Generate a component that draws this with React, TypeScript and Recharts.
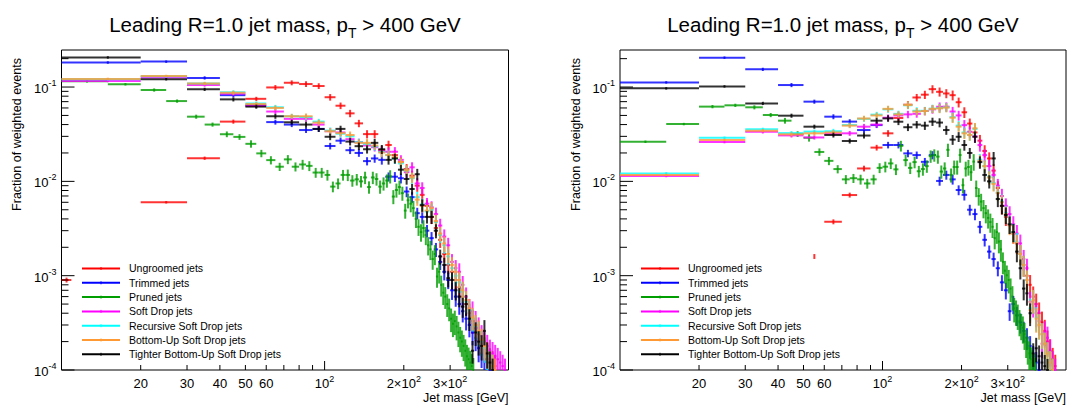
import { ScatterChart, Scatter, XAxis, YAxis, ErrorBar, ReferenceArea, Legend } from 'recharts';

const FONT = '"Liberation Sans", Arial, Helvetica, sans-serif';

// bin centres (GeV): 10 GeV bins for most jets, 5 GeV bins for pruned jets
const massCenters10 = [
  15, 25, 35, 45, 55, 65, 75, 85, 95, 105, 115, 125, 135, 145, 155, 165, 175, 185, 195, 205, 215, 225, 235, 245, 255,
  265, 275, 285, 295, 305, 315, 325, 335, 345, 355, 365, 375, 385, 395, 405, 415, 425, 435, 445, 455, 465, 475, 485, 495,
];
const massCenters5 = [
  12.5, 17.5, 22.5, 27.5, 32.5, 37.5, 42.5, 47.5, 52.5, 57.5, 62.5, 67.5, 72.5, 77.5, 82.5, 87.5, 92.5, 97.5, 102.5,
  107.5, 112.5, 117.5, 122.5, 127.5, 132.5, 137.5, 142.5, 147.5, 152.5, 157.5, 162.5, 167.5, 172.5, 177.5, 182.5, 187.5,
  192.5, 197.5, 202.5, 207.5, 212.5, 217.5, 222.5, 227.5, 232.5, 237.5, 242.5, 247.5, 252.5, 257.5, 262.5, 267.5, 272.5,
  277.5, 282.5, 287.5, 292.5, 297.5, 302.5, 307.5, 312.5, 317.5, 322.5, 327.5, 332.5, 337.5, 342.5, 347.5, 352.5, 357.5,
  362.5, 367.5, 372.5, 377.5, 382.5, 387.5, 392.5, 397.5,
];

// relative stat. errors per 10 GeV bin
const relErr10 = [
  0.03, 0.03, 0.04, 0.05, 0.05, 0.06, 0.06, 0.07, 0.07, 0.08, 0.08, 0.09, 0.09, 0.1, 0.1, 0.11, 0.11, 0.12, 0.12, 0.13,
  0.13, 0.14, 0.15, 0.15, 0.16, 0.17, 0.18, 0.19, 0.2, 0.21, 0.22, 0.23, 0.24, 0.25, 0.26, 0.27, 0.28, 0.29, 0.3, 0.3,
  0.31, 0.31, 0.32, 0.32, 0.32, 0.32, 0.32, 0.32, 0.32,
];
const relErrPruned10 = [
  0.03, 0.04, 0.05, 0.07, 0.09, 0.1, 0.11, 0.12, 0.12, 0.13, 0.13, 0.14, 0.14, 0.15, 0.15, 0.16, 0.16, 0.17, 0.17, 0.18,
  0.19, 0.2, 0.21, 0.22, 0.23, 0.24, 0.25, 0.26, 0.27, 0.28, 0.29, 0.3, 0.31, 0.32, 0.33, 0.34, 0.35, 0.35, 0.35, 0.35,
];

// ---- left pad ----
const ungroomedL = [
  null, 0.006, 0.0176, 0.043, 0.075, 0.099, 0.111, 0.1076, 0.1025, 0.078, 0.0634, 0.0526, 0.0412, 0.0317, 0.0317,
  0.0215, 0.0243, 0.019, 0.016, 0.0135, 0.0115, 0.009, 0.0072, 0.0055, 0.0042, 0.0032, 0.0024, 0.0017, 0.0013, 0.0011,
  0.0009, 0.00075, 0.0006, 0.0005, 0.0004, 0.00033, 0.00028, 0.00024, 0.0002, 0.00017, 0.00015, 0.00013, 0.00012, 0.00011,
];
const trimmedL = [
  0.182, 0.186, 0.125, 0.082, 0.064, 0.0425, 0.04, 0.035, 0.036, 0.0237, 0.027, 0.0214, 0.02, 0.0164, 0.0175, 0.0169,
  0.0112, 0.0112, 0.0108, 0.0078, 0.0068, 0.0046, 0.0042, 0.003, 0.0025, 0.0019, 0.0014, 0.0011, 0.0009, 0.0007, 0.0006,
  0.0005, 0.00042, 0.00035, 0.0003, 0.00025, 0.00022, 0.00017, 0.00015, 0.00013, 0.00012, 0.0001,
];
const prunedL = [
  0.115, 0.107, 0.093, 0.071, 0.0485, 0.04, 0.0316, 0.0296, 0.025, 0.0198, 0.0168, 0.0143, 0.0171, 0.0143, 0.0151,
  0.0146, 0.0124, 0.0124, 0.0117, 0.0088, 0.0095, 0.0117, 0.0117, 0.0102, 0.0105, 0.01, 0.011, 0.0087, 0.011, 0.0106,
  0.0088, 0.0095, 0.0102, 0.0113, 0.0069, 0.0081, 0.0087, 0.0075, 0.0049, 0.0063, 0.0058, 0.0052, 0.004, 0.0033, 0.0029,
  0.0032, 0.0027, 0.0021, 0.0019, 0.0015, 0.0017, 0.00098, 0.0011, 0.0008, 0.00066, 0.0006, 0.0005, 0.00045, 0.00035,
  0.00031, 0.00033, 0.00029, 0.00025, 0.00022, 0.0002, 0.00018, 0.00016, 0.00014, 0.00013, 0.00012, 0.00011, 0.0001,
];
const softDropL = [
  0.116, 0.126, 0.105, 0.085, 0.063, 0.055, 0.046, 0.046, 0.04, 0.034, 0.033, 0.028, 0.026, 0.024, 0.023, 0.021, 0.0206,
  0.0206, 0.0169, 0.0125, 0.0141, 0.0095, 0.0085, 0.0058, 0.0053, 0.0045, 0.0034, 0.0026, 0.0021, 0.0014, 0.0012, 0.0011,
  0.0008, 0.0006, 0.00045, 0.00042, 0.00033, 0.00028, 0.00023, 0.0002, 0.00018, 0.00016, 0.00015, 0.00014, 0.00013,
  0.00012, 0.00011, 0.0001,
];
const recursiveL = [
  0.121, 0.13, 0.109, 0.088, 0.067, 0.061, 0.049, 0.048, 0.043, 0.0345, 0.032, 0.03, 0.026, 0.025, 0.0235, 0.0205, 0.019,
  0.0175, 0.0155, 0.013, 0.0108, 0.0068, 0.0057, 0.0048, 0.005, 0.0037, 0.0027, 0.0021, 0.0016, 0.0012, 0.001, 0.00085,
  0.00068, 0.00053, 0.00043, 0.00035, 0.00029, 0.00025, 0.0002, 0.00017, 0.00014, 0.00012, 0.00011,
];
const bottomUpL = [
  0.122, 0.131, 0.109, 0.087, 0.066, 0.06, 0.049, 0.049, 0.042, 0.034, 0.0325, 0.031, 0.0256, 0.0256, 0.024, 0.0202,
  0.019, 0.018, 0.016, 0.0131, 0.011, 0.0064, 0.0055, 0.0049, 0.0052, 0.0038, 0.0028, 0.0022, 0.0017, 0.0013, 0.0011,
  0.0009, 0.0007, 0.00055, 0.00045, 0.00036, 0.0003, 0.00026, 0.00021, 0.00018, 0.00015, 0.00012, 0.00011, 0.0001,
];
const tighterL = [
  0.206, 0.121, 0.0945, 0.074, 0.062, 0.049, 0.0423, 0.04, 0.0359, 0.0297, 0.036, 0.0264, 0.0236, 0.0219, 0.0256, 0.0219,
  0.0169, 0.0175, 0.0133, 0.0106, 0.0083, 0.0119, 0.0056, 0.0042, 0.0042, 0.003, 0.0016, 0.0013, 0.00094, 0.0009, 0.0007,
  0.0006, 0.00047, 0.0005, 0.00035, 0.00016, 0.00025, 0.0002, 0.00018, 0.00026, 0.00015, 0.00012, 0.0001,
];
const strayUngroomedL = [{ mass: 10.45, half: 0.45, value: 0.0009 }];

// ---- right pad ----
const ungroomedR = [
  null, null, null, null, null, 0.00373, 0.00716, 0.0137, 0.0228, 0.0323, 0.047, 0.065, 0.0775, 0.083, 0.095, 0.089,
  0.0855, 0.082, 0.069, 0.054, 0.041, 0.033, 0.027, 0.021, 0.0175, 0.013, 0.0085, 0.0055, 0.0042, 0.0035, 0.0028, 0.0022,
  0.0017, 0.0013, 0.001, 0.0008, 0.0006, 0.0005, 0.0004, 0.00032, 0.00026, 0.0002, 0.00016, 0.00013, 0.00011,
];
const trimmedR = [
  0.112, 0.205, 0.154, 0.105, 0.07, 0.0485, 0.043, 0.035, 0.0395, 0.0243, 0.0243, 0.0198, 0.019, 0.0161, 0.019, 0.0101,
  0.0117, 0.0105, 0.0081, 0.0072, 0.005, 0.0045, 0.0033, 0.0024, 0.0018, 0.0015, 0.0012, 0.00085, 0.0007, 0.00042,
  0.0005, 0.00038, 0.00032, 0.00026, 0.00022, 0.00018, 0.00014, 0.00012, 0.0001,
];
const prunedR = [
  0.0263, 0.0405, 0.062, 0.064, 0.061, 0.0505, 0.044, 0.0318, 0.029, 0.0205, 0.0165, 0.0135, 0.0105, 0.0108, 0.0105,
  0.0095, 0.0105, 0.0139, 0.0143, 0.0155, 0.0134, 0.0238, 0.0168, 0.0139, 0.016, 0.0128, 0.0135, 0.0145, 0.0185, 0.019,
  0.0183, 0.0127, 0.0137, 0.0216, 0.0117, 0.0142, 0.0142, 0.019, 0.0091, 0.0137, 0.0142, 0.0125, 0.0162, 0.0085, 0.007,
  0.0061, 0.0052, 0.0046, 0.0041, 0.0037, 0.0033, 0.0025, 0.0029, 0.0023, 0.0019, 0.0014, 0.00113, 0.00101, 0.0009,
  0.00073, 0.0006, 0.00045, 0.00042, 0.00038, 0.00033, 0.0003, 0.00028, 0.00024, 0.0002, 0.00017, 0.00015, 0.00013,
  0.00012, 0.00011, 0.0001,
];
const softDropR = [
  0.0114, 0.0261, 0.0335, 0.0307, 0.0292, 0.032, 0.0323, 0.038, 0.04, 0.0473, 0.05, 0.0513, 0.052, 0.0557, 0.058, 0.0618,
  0.062, 0.055, 0.05, 0.0395, 0.0336, 0.03, 0.0243, 0.019, 0.0145, 0.0117, 0.009, 0.007, 0.0055, 0.0045, 0.0035, 0.0028,
  0.0022, 0.0015, 0.0012, 0.00053, 0.0005, 0.0004, 0.00033, 0.00019, 0.00025, 0.00022, 0.00016, 0.00012, 0.0001,
];
const recursiveR = [
  0.01215, 0.029, 0.0356, 0.0325, 0.0337, 0.034, 0.0395, 0.046, 0.051, 0.058, 0.052, 0.064, 0.056, 0.056, 0.059, 0.06,
  0.061, 0.048, 0.039, 0.033, 0.031, 0.036, 0.017, 0.0145, 0.0112, 0.0096, 0.0076, 0.0061, 0.0046, 0.0035, 0.0029, 0.0023,
  0.0017, 0.0013, 0.0009, 0.00045, 0.00055, 0.00036, 0.0003, 0.00024, 0.00019, 0.00015, 0.00012, 0.0001,
];
const bottomUpR = [
  0.0117, 0.0275, 0.0345, 0.0315, 0.0323, 0.033, 0.039, 0.0464, 0.05, 0.0587, 0.0513, 0.0645, 0.055, 0.0557, 0.0587,
  0.0594, 0.0606, 0.0473, 0.038, 0.0323, 0.031, 0.0365, 0.0165, 0.0145, 0.011, 0.0094, 0.0075, 0.006, 0.0045, 0.0034,
  0.0028, 0.0022, 0.0017, 0.0013, 0.0009, 0.00043, 0.00055, 0.00035, 0.0003, 0.00024, 0.00019, 0.00015, 0.00012, 0.0001,
];
const tighterR = [
  0.0968, 0.1016, 0.067, 0.0497, 0.038, 0.031, 0.0268, 0.0306, 0.044, 0.0465, 0.0429, 0.0375, 0.04, 0.039, 0.043, 0.042,
  0.035, 0.0277, 0.0297, 0.0243, 0.02, 0.0297, 0.016, 0.0117, 0.01, 0.0175, 0.0065, 0.0055, 0.0044, 0.0035, 0.0029,
  0.0018, 0.0012, 0.00073, 0.00065, 0.0004, 0.00015, 0.00017, 0.00014, 0.00012, 0.00011, 0.0001,
];
const strayUngroomedR = [{ mass: 55, half: 0, value: 0.0016 }];

// ---- axes ----
const Y_MIN = 0.0001;
const Y_MAX = 0.247;
const yTicks = [
  0.0001, 0.0002, 0.0003, 0.0004, 0.0005, 0.0006, 0.0007, 0.0008, 0.0009, 0.001, 0.002, 0.003, 0.004, 0.005, 0.006,
  0.007, 0.008, 0.009, 0.01, 0.02, 0.03, 0.04, 0.05, 0.06, 0.07, 0.08, 0.09, 0.1, 0.2,
];
const yDecadeLabels: Record<string, string> = { '0.0001': '-4', '0.001': '-3', '0.01': '-2', '0.1': '-1' };
const xTicks = [20, 30, 40, 50, 60, 70, 80, 90, 100, 200, 300];
const xTickLabels: Record<string, [string, string]> = {
  '20': ['20', ''],
  '30': ['30', ''],
  '40': ['40', ''],
  '50': ['50', ''],
  '60': ['60', ''],
  '100': ['10', '2'],
  '200': ['2\u00d710', '2'],
  '300': ['3\u00d710', '2'],
};

const legendNames = [
  'Ungroomed jets',
  'Trimmed jets',
  'Pruned jets',
  'Soft Drop jets',
  'Recursive Soft Drop jets',
  'Bottom-Up Soft Drop jets',
  'Tighter Bottom-Up Soft Drop jets',
];
const colors = ['#ff0000', '#0000ff', '#009e00', '#ff00ff', '#00ffff', '#ff9933', '#000000'];

type Pt = { x: number; y: number; ex: [number, number]; ey: [number, number] };

// lower error clamped to the frame bottom (ROOT clips there)
function toPoints(values: (number | null)[], centers: number[], half: number, errs: number[], step: number): Pt[] {
  const pts: Pt[] = [];
  values.forEach((v, i) => {
    if (v == null) return;
    const e = v * errs[Math.floor(i / step)];
    pts.push({ x: centers[i], y: v, ex: [half, half], ey: [Math.min(e, v - Y_MIN), e] });
  });
  return pts;
}

function strayPoints(list: { mass: number; half: number; value: number }[]): Pt[] {
  return list.map((p) => ({ x: p.mass, y: p.value, ex: [p.half, p.half], ey: [p.value * 0.06, p.value * 0.06] }));
}

const leftSeries = [
  toPoints(ungroomedL, massCenters10, 5, relErr10, 1),
  toPoints(trimmedL, massCenters10, 5, relErr10, 1),
  toPoints(prunedL, massCenters5, 2.5, relErrPruned10, 2),
  toPoints(softDropL, massCenters10, 5, relErr10, 1),
  toPoints(recursiveL, massCenters10, 5, relErr10, 1),
  toPoints(bottomUpL, massCenters10, 5, relErr10, 1),
  toPoints(tighterL, massCenters10, 5, relErr10, 1),
];
const rightSeries = [
  toPoints(ungroomedR, massCenters10, 5, relErr10, 1),
  toPoints(trimmedR, massCenters10, 5, relErr10, 1),
  toPoints(prunedR, massCenters5, 2.5, relErrPruned10, 2),
  toPoints(softDropR, massCenters10, 5, relErr10, 1),
  toPoints(recursiveR, massCenters10, 5, relErr10, 1),
  toPoints(bottomUpR, massCenters10, 5, relErr10, 1),
  toPoints(tighterR, massCenters10, 5, relErr10, 1),
];

const Blank = () => <g />;

function XTick(props: any) {
  const { x, y, payload } = props;
  const v: number = payload.value;
  const label = xTickLabels[String(v)];
  const len = v === 100 ? 9 : 5;
  return (
    <g>
      <line x1={x} x2={x} y1={y} y2={y - len} stroke="#000" />
      {label && (
        <text x={x} y={y + 17.5} textAnchor="middle" fontSize={13} fontFamily={FONT} fill="#000">
          {label[0]}
          {label[1] && (
            <tspan dy={-6} fontSize={9}>
              {label[1]}
            </tspan>
          )}
        </text>
      )}
    </g>
  );
}

function YTick(props: any) {
  const { x, y, payload } = props;
  const exp = yDecadeLabels[String(payload.value)];
  const major = exp !== undefined;
  return (
    <g>
      <line x1={x} x2={x + (major ? 13 : 7)} y1={y} y2={y} stroke="#000" />
      {major && (
        <text x={x - 5} y={y + 6} textAnchor="end" fontSize={13} fontFamily={FONT} fill="#000">
          10
          <tspan dy={-7} fontSize={9}>
            {exp}
          </tspan>
        </text>
      )}
    </g>
  );
}

interface PanelProps {
  left: number;
  width: number;
  frameLeft: number;
  plotWidth: number;
  series: Pt[][];
  stray: Pt[];
}

function Panel({ left, width, frameLeft, plotWidth, series, stray }: PanelProps) {
  const frameRight = frameLeft + plotWidth;
  const yTitleX = frameLeft - 40.5;
  const legendContent = () => (
    <svg width={280} height={108} style={{ display: 'block' }}>
      {legendNames.map((name, i) => {
        const cy = 8.5 + i * 14.3;
        return (
          <g key={name}>
            <line x1={0} x2={38} y1={cy} y2={cy} stroke={colors[i]} strokeWidth={2} />
            <line x1={19} x2={19} y1={cy - 1.5} y2={cy + 1.5} stroke={colors[i]} strokeWidth={1} />
            <text x={47} y={cy + 3.8} fontSize={10.5} fontFamily={FONT} fill="#000">
              {name}
            </text>
          </g>
        );
      })}
    </svg>
  );
  return (
    <div style={{ position: 'absolute', left, top: 0, width, height: 406 }}>
      <ScatterChart width={width} height={406} margin={{ top: 50, right: width - frameRight, bottom: 0, left: 0 }}>
        <XAxis
          type="number"
          dataKey="x"
          scale="log"
          domain={[10, 500]}
          allowDataOverflow
          ticks={xTicks}
          interval={0}
          tickSize={0}
          tickMargin={0}
          tickLine={false}
          axisLine={false}
          height={36}
          tick={(p: any) => <XTick {...p} />}
        />
        <YAxis
          type="number"
          dataKey="y"
          scale="log"
          domain={[Y_MIN, Y_MAX]}
          allowDataOverflow
          ticks={yTicks}
          interval={0}
          tickSize={0}
          tickMargin={0}
          tickLine={false}
          axisLine={false}
          width={frameLeft}
          tick={(p: any) => <YTick {...p} />}
        />
        <ReferenceArea x1={10} x2={500} y1={Y_MIN} y2={Y_MAX} fill="none" stroke="#000" strokeWidth={1} ifOverflow="visible" />
        {series.map((pts, i) => (
          <Scatter key={legendNames[i]} name={legendNames[i]} data={pts} shape={Blank} isAnimationActive={false}>
            <ErrorBar dataKey="ex" direction="x" width={0} stroke={colors[i]} strokeWidth={2} strokeOpacity={0.8} isAnimationActive={false} />
            <ErrorBar dataKey="ey" direction="y" width={0} stroke={colors[i]} strokeWidth={2} strokeOpacity={0.8} isAnimationActive={false} />
          </Scatter>
        ))}
        <Scatter name="stray" data={stray} shape={Blank} isAnimationActive={false} legendType="none">
          <ErrorBar dataKey="ex" direction="x" width={0} stroke={colors[0]} strokeWidth={2} strokeOpacity={0.8} isAnimationActive={false} />
          <ErrorBar dataKey="ey" direction="y" width={0} stroke={colors[0]} strokeWidth={2} strokeOpacity={0.8} isAnimationActive={false} />
        </Scatter>
        <Legend
          layout="vertical"
          align="center"
          verticalAlign="middle"
          content={legendContent}
          wrapperStyle={{ left: frameLeft + 20.5, top: 260, width: 280, height: 108 }}
        />
      </ScatterChart>
      <svg width={width} height={406} style={{ position: 'absolute', left: 0, top: 0, pointerEvents: 'none' }}>
        <text x={frameLeft + plotWidth / 2} y={32} textAnchor="middle" fontSize={20.5} fontFamily={FONT} fill="#000">
          Leading R=1.0 jet mass, p
          <tspan dy={6} fontSize={14}>
            T
          </tspan>
          <tspan dy={-6}> &gt; 400 GeV</tspan>
        </text>
        <text x={frameRight} y={401.5} textAnchor="end" fontSize={12.5} fontFamily={FONT} fill="#000">
          Jet mass [GeV]
        </text>
        <text
          x={yTitleX}
          y={58}
          textAnchor="end"
          fontSize={12.5}
          fontFamily={FONT}
          fill="#000"
          transform={`rotate(-90, ${yTitleX}, 58)`}
        >
          Fraction of weighted events
        </text>
      </svg>
    </div>
  );
}

export default function App() {
  return (
    <div style={{ position: 'absolute', left: 0, top: 0, width: 1073, height: 406, background: '#fff', overflow: 'hidden' }}>
      <Panel left={0} width={540} frameLeft={61.5} plotWidth={447} series={leftSeries} stray={strayPoints(strayUngroomedL)} />
      <Panel left={540} width={533} frameLeft={80} plotWidth={446} series={rightSeries} stray={strayPoints(strayUngroomedR)} />
    </div>
  );
}
